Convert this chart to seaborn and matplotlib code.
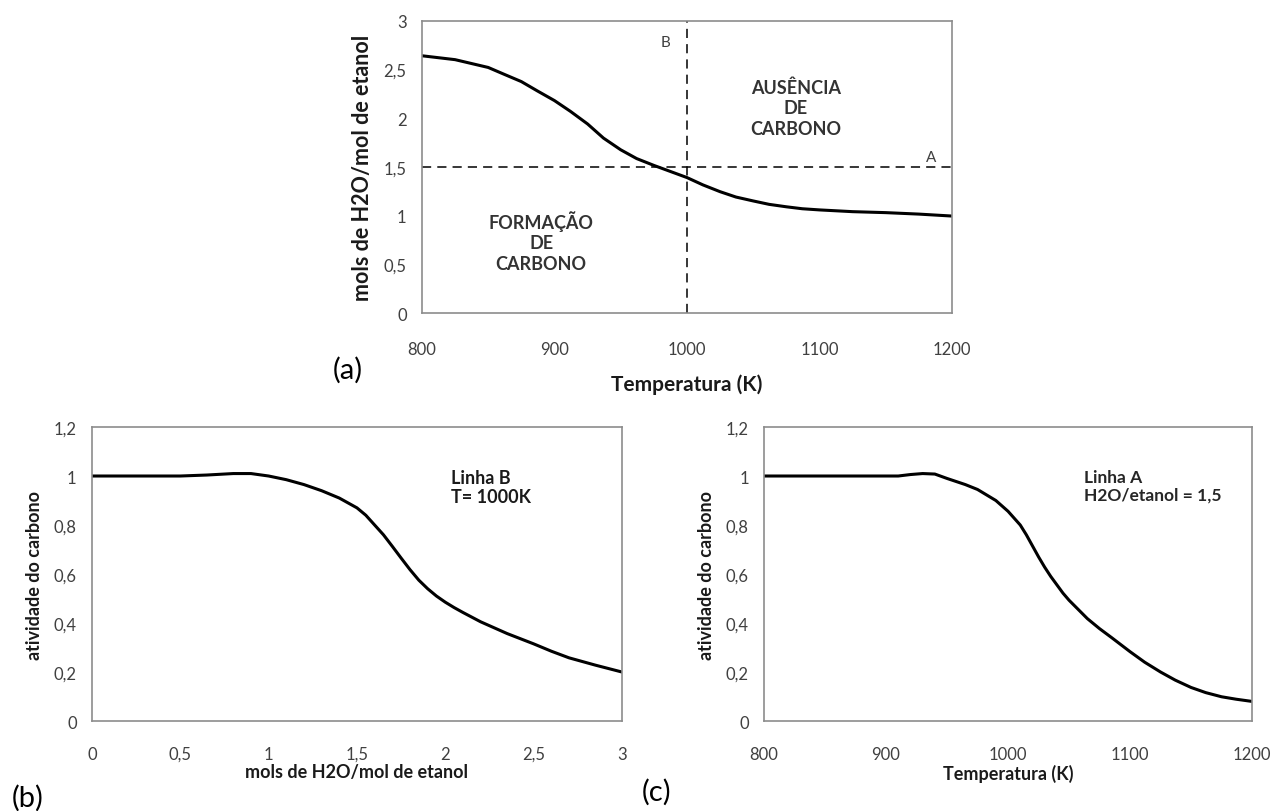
import numpy as np
import pandas as pd
import matplotlib
matplotlib.use("Agg")
import matplotlib.pyplot as plt
import seaborn as sns

# panel (a): carbon formation boundary
temp_a = [800, 825, 850, 862, 875, 887, 900, 912, 925, 937, 950, 962, 975,
          987, 1000, 1012, 1025, 1037, 1050, 1062, 1075, 1087, 1100, 1125,
          1150, 1175, 1200]
ratio_a = [2.64, 2.60, 2.52, 2.45, 2.375, 2.28, 2.18, 2.07, 1.94, 1.795,
           1.675, 1.585, 1.515, 1.455, 1.39, 1.315, 1.245, 1.19, 1.15, 1.115,
           1.09, 1.07, 1.058, 1.04, 1.03, 1.015, 0.995]

# panel (b): carbon activity along line B (T = 1000 K)
ratio_b = [0.0, 0.5, 0.65, 0.8, 0.9, 1.0, 1.1, 1.2, 1.3, 1.4, 1.5, 1.55, 1.6,
           1.65, 1.7, 1.75, 1.8, 1.85, 1.9, 1.95, 2.0, 2.05, 2.1, 2.2, 2.35,
           2.5, 2.6, 2.7, 2.85, 3.0]
activ_b = [1.0, 1.0, 1.004, 1.01, 1.01, 1.0, 0.985, 0.965, 0.94, 0.91, 0.87,
           0.84, 0.80, 0.76, 0.713, 0.665, 0.618, 0.575, 0.54, 0.51, 0.485,
           0.463, 0.443, 0.405, 0.357, 0.315, 0.285, 0.258, 0.228, 0.20]

# panel (c): carbon activity along line A (H2O/etanol = 1,5)
temp_c = [800, 850, 900, 910, 920, 930, 940, 950, 965, 975, 990, 1000, 1010,
          1015, 1020, 1025, 1030, 1035, 1040, 1045, 1050, 1060, 1065, 1075,
          1085, 1100, 1112, 1125, 1137, 1150, 1162, 1175, 1187, 1200]
activ_c = [1.0, 1.0, 1.0, 1.0, 1.006, 1.01, 1.008, 0.99, 0.965, 0.945, 0.90,
           0.856, 0.80, 0.76, 0.715, 0.67, 0.628, 0.59, 0.556, 0.522, 0.493,
           0.443, 0.418, 0.377, 0.34, 0.283, 0.24, 0.20, 0.167, 0.137, 0.116,
           0.099, 0.089, 0.08]

sns.set_style("white")
plt.rcParams['font.family'] = ['Lato', 'DejaVu Sans']

tick_color = '#404040'
spine_color = '#8c8c8c'
label_color = '#1a1a1a'


def style_axes(ax, xticks, xlabels, yticks, ylabels, xpad):
    ax.set_xticks(xticks)
    ax.set_xticklabels(xlabels)
    ax.set_yticks(yticks)
    ax.set_yticklabels(ylabels)
    ax.set_xlim(xticks[0], xticks[-1])
    ax.set_ylim(yticks[0], yticks[-1])
    ax.tick_params(axis='both', direction='out', length=5, width=1,
                   color=spine_color, labelcolor=tick_color, labelsize=12,
                   pad=6)
    ax.tick_params(axis='x', pad=xpad)
    for sp in ax.spines.values():
        sp.set_color(spine_color)
        sp.set_linewidth(1.2)


fig = plt.figure(figsize=(12.88, 8.12), dpi=100)

# ---- (a)
ax_a = fig.add_axes([0.3276, 0.6133, 0.4115, 0.36])
df_a = pd.DataFrame({'T': temp_a, 'r': ratio_a})
sns.lineplot(data=df_a, x='T', y='r', ax=ax_a, color='black', linewidth=2.2)
ax_a.axvline(1000, color='black', linestyle=(0, (6, 4)), linewidth=1.1)
ax_a.axhline(1.5, color='black', linestyle=(0, (6, 4)), linewidth=1.1)
style_axes(ax_a, [800, 900, 1000, 1100, 1200],
           ['800', '900', '1000', '1100', '1200'],
           [0, 0.5, 1, 1.5, 2, 2.5, 3],
           ['0', '0,5', '1', '1,5', '2', '2,5', '3'], xpad=15)
ax_a.set_xlabel('Temperatura (K)', fontsize=15, fontweight='bold',
                color=label_color, labelpad=12)
ax_a.set_ylabel('mols de H2O/mol de etanol', fontsize=15.5,
                fontweight='bold', color=label_color, labelpad=8)
ax_a.text(984, 2.78, 'B', fontsize=11, color=tick_color, ha='center',
          va='center')
ax_a.text(1184, 1.6, 'A', fontsize=11, color=tick_color, ha='center',
          va='center')
ax_a.text(1082, 2.11, 'AUSÊNCIA\nDE\nCARBONO', fontsize=13,
          fontweight='bold', color='#333333', ha='center', va='center',
          linespacing=1.25)
ax_a.text(890, 0.74, 'FORMAÇÃO\nDE\nCARBONO', fontsize=13,
          fontweight='bold', color='#333333', ha='center', va='center',
          linespacing=1.25)

# ---- (b)
ax_b = fig.add_axes([0.0714, 0.1108, 0.4115, 0.3621])
df_b = pd.DataFrame({'r': ratio_b, 'a': activ_b})
sns.lineplot(data=df_b, x='r', y='a', ax=ax_b, color='black', linewidth=2.2)
style_axes(ax_b, [0, 0.5, 1, 1.5, 2, 2.5, 3],
           ['0', '0,5', '1', '1,5', '2', '2,5', '3'],
           [0, 0.2, 0.4, 0.6, 0.8, 1.0, 1.2],
           ['0', '0,2', '0,4', '0,6', '0,8', '1', '1,2'], xpad=13)
ax_b.set_xlabel('mols de H2O/mol de etanol', fontsize=13, fontweight='bold',
                color=label_color, labelpad=1)
ax_b.set_ylabel('atividade do carbono', fontsize=13, fontweight='bold',
                color=label_color, labelpad=8)
ax_b.text(2.03, 1.03, 'Linha B\nT= 1000K', fontsize=13, fontweight='bold',
          color=label_color, ha='left', va='top', linespacing=1.15)

# ---- (c)
ax_c = fig.add_axes([0.5932, 0.1108, 0.3789, 0.3621])
df_c = pd.DataFrame({'T': temp_c, 'a': activ_c})
sns.lineplot(data=df_c, x='T', y='a', ax=ax_c, color='black', linewidth=2.2)
style_axes(ax_c, [800, 900, 1000, 1100, 1200],
           ['800', '900', '1000', '1100', '1200'],
           [0, 0.2, 0.4, 0.6, 0.8, 1.0, 1.2],
           ['0', '0,2', '0,4', '0,6', '0,8', '1', '1,2'], xpad=13)
ax_c.set_xlabel('Temperatura (K)', fontsize=13, fontweight='bold',
                color=label_color, labelpad=1)
ax_c.set_ylabel('atividade do carbono', fontsize=13, fontweight='bold',
                color=label_color, labelpad=8)
ax_c.text(1062, 1.03, 'Linha A\nH2O/etanol = 1,5', fontsize=12.5,
          fontweight='bold', color='#262626', ha='left', va='top',
          linespacing=1.15)

# panel letters
for lbl, x, y in [('(a)', 348 / 1288, 1 - 370 / 812),
                  ('(b)', 28 / 1288, 1 - 798 / 812),
                  ('(c)', 657 / 1288, 1 - 792 / 812)]:
    fig.text(x, y, lbl, fontsize=21, fontweight='normal', color='black',
             ha='center', va='center', family=['Lato', 'DejaVu Sans'])

fig.savefig('out.png', dpi=100)
